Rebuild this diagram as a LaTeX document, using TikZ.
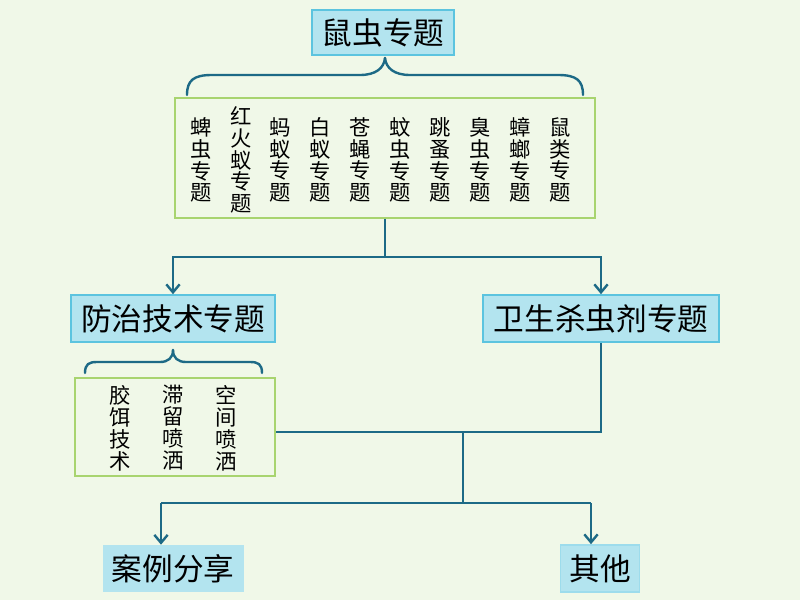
\documentclass[tikz,border=0pt]{standalone}
\usepackage{fontspec}
\newfontfamily\cjk{Noto Sans CJK SC}
\usetikzlibrary{arrows.meta}
\definecolor{bg}{HTML}{F0F8E8}
\definecolor{boxfill}{HTML}{B3E4EF}
\definecolor{boxline}{HTML}{5CC4DF}
\definecolor{greenline}{HTML}{A8D46F}
\definecolor{conn}{HTML}{1D6A86}
\tikzset{
  topic/.style={fill=boxfill, draw=boxline, line width=1.2pt, inner sep=0pt,
    font=\cjk\fontsize{23}{26}\selectfont, text=black},
  topicnb/.style={fill=boxfill, inner sep=0pt,
    font=\cjk\fontsize{23}{26}\selectfont, text=black},
  greenbox/.style={draw=greenline, line width=1.2pt, fill=bg, inner sep=0pt},
  col/.style={font=\cjk\fontsize{16}{16.3}\selectfont, align=center, inner sep=0pt, text=black},
  conn/.style={draw=conn, line width=1.8pt},
  arr/.style={conn, -{Straight Barb[length=6pt,width=10pt]}},
  brace/.style={draw=conn, line width=1.8pt, line cap=round}
}
\begin{document}
\begin{tikzpicture}[x=0.75pt,y=-0.75pt]
\fill[bg] (0,0) rectangle (800,600);
\useasboundingbox (0,0) rectangle (800,600);

% title
\node[topic, minimum width=106.5pt, minimum height=33.75pt] (title) at (383,32.5) {鼠虫专题};

% top brace
\draw[brace] (187,95) .. controls (187,80) and (194,75) .. (212,75) -- (360,75)
  .. controls (376,75) and (384,68) .. (385,58);
\draw[brace] (583,95) .. controls (583,80) and (576,75) .. (558,75) -- (410,75)
  .. controls (394,75) and (386,68) .. (385,58);

% green box 1
\node[greenbox, minimum width=315pt, minimum height=90pt] (g1) at (385,158) {};
\node[col] (c1) at (201,160) {蜱\\虫\\专\\题};
\node[col] (c2) at (241,160) {红\\火\\蚁\\专\\题};
\node[col] (c3) at (280,160) {蚂\\蚁\\专\\题};
\node[col] (c4) at (320,160) {白\\蚁\\专\\题};
\node[col] (c5) at (360,160) {苍\\蝇\\专\\题};
\node[col] (c6) at (400,160) {蚊\\虫\\专\\题};
\node[col] (c7) at (440,160) {跳\\蚤\\专\\题};
\node[col] (c8) at (480,160) {臭\\虫\\专\\题};
\node[col] (c9) at (520,160) {蟑\\螂\\专\\题};
\node[col] (c10) at (560,160) {鼠\\类\\专\\题};

% second level
\node[topic, minimum width=153pt, minimum height=35.25pt] (p1) at (173,318.5) {防治技术专题};
\node[topic, minimum width=177pt, minimum height=35.25pt] (p2) at (601,318.5) {卫生杀虫剂专题};

\coordinate (j1) at (385,257);
\draw[conn] (g1.south) -- (j1);
\draw[arr] (j1) -| (p1.north);
\draw[arr] (j1) -| (p2.north);

% second brace
\draw[brace] (85,373) .. controls (85,364) and (89,362) .. (97,362) -- (160,362)
  .. controls (168,362) and (173,358) .. (173,350);
\draw[brace] (262,373) .. controls (262,364) and (258,362) .. (250,362) -- (186,362)
  .. controls (178,362) and (173,358) .. (173,350);

% green box 2
\node[greenbox, minimum width=150pt, minimum height=73.5pt] (g2) at (175,427) {};
\node[col, font=\cjk\fontsize{16}{16.5}\selectfont] (d1) at (120,428) {胶\\饵\\技\\术};
\node[col, font=\cjk\fontsize{16}{16.5}\selectfont] (d2) at (173,428) {滞\\留\\喷\\洒};
\node[col, font=\cjk\fontsize{16}{16.5}\selectfont] (d3) at (226,428) {空\\间\\喷\\洒};

% junction
\coordinate (j2) at (463,432);
\coordinate (j3) at (463,503);
\draw[conn] (p2.south) |- (g2.east |- j2);
\draw[conn] (j2) -- (j3);

% bottom
\node[topicnb, minimum width=105.75pt, minimum height=35.25pt] (case) at (173,568.5) {案例分享};
\node[topic, draw=boxline!60, minimum width=59.25pt, minimum height=35.25pt] (other) at (600,568.5) {其他};

\coordinate (ca) at (161,503);
\coordinate (ot) at (591,503);
\draw[conn] (ca) -- (ot);
\draw[arr] (ca) -- (ca |- case.north);
\draw[arr] (ot) -- (ot |- other.north);
\end{tikzpicture}
\end{document}
